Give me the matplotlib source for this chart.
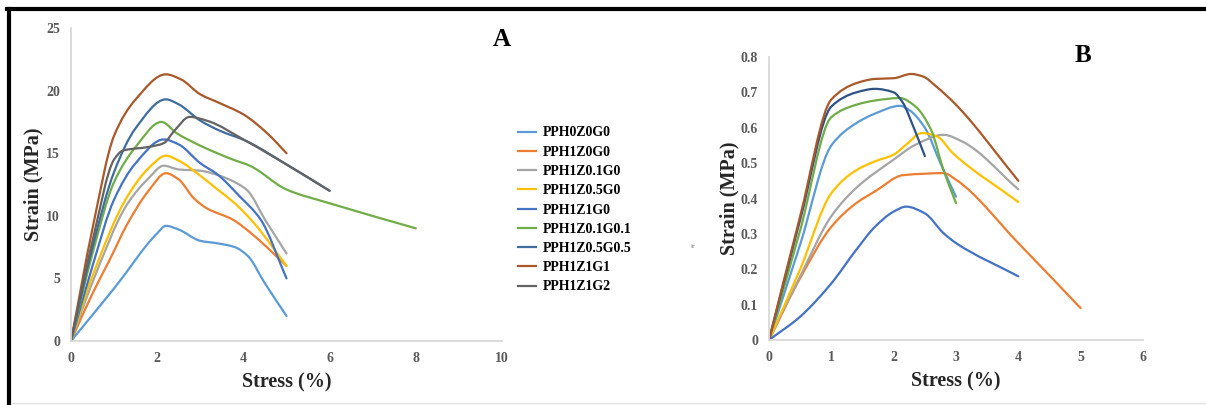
import matplotlib
matplotlib.use("Agg")
import matplotlib.pyplot as plt
from matplotlib.lines import Line2D
from matplotlib.path import Path
from matplotlib.patches import PathPatch
from matplotlib.ticker import FuncFormatter

# ---------------- data: panel A ----------------
labels = ["PPH0Z0G0", "PPH1Z0G0", "PPH1Z0.1G0", "PPH1Z0.5G0", "PPH1Z1G0",
          "PPH1Z0.1G0.1", "PPH1Z0.5G0.5", "PPH1Z1G1", "PPH1Z1G2"]
colors = ["#5B9BD5", "#ED7D31", "#A5A5A5", "#FFC000", "#4472C4",
          "#70AD47", "#3F6E9E", "#A9582A", "#636363"]

A_x = [
    [0, 1, 2, 2.2, 2.5, 3, 3.4, 3.8, 4.1, 4.5, 5],
    [0, 0.5, 0.9, 1.3, 1.8, 2.2, 2.5, 2.85, 3.15, 3.75, 4.25, 5],
    [0, 0.5, 1.3, 1.8, 2.15, 2.5, 3, 3.45, 3.85, 4.1, 4.5, 5],
    [0, 0.5, 1.3, 1.8, 2.2, 2.5, 3, 3.4, 3.8, 4.25, 5],
    [0, 0.5, 1, 1.5, 2.15, 2.5, 3, 3.4, 3.9, 4.4, 5],
    [0, 0.5, 1, 1.5, 2.1, 2.45, 3, 3.75, 4.15, 5, 6, 8],
    [0, 0.5, 1, 1.5, 2.2, 2.5, 3, 3.45, 4.05, 5, 6],
    [0, 0.5, 1, 1.5, 2.2, 2.55, 3, 3.45, 4, 4.55, 5],
    [0, 0.5, 1, 1.2, 1.8, 2.15, 2.4, 2.75, 3.15, 4.05, 5, 6],
]
A_y = [
    [0, 4.2, 8.6, 9.2, 8.9, 8.0, 7.8, 7.5, 6.8, 4.6, 2.0],
    [0, 3.8, 6.5, 9.3, 12.0, 13.4, 12.9, 11.4, 10.6, 9.7, 8.4, 6.0],
    [0, 4.7, 10.9, 13.0, 14.0, 13.7, 13.6, 13.2, 12.6, 12.0, 9.7, 7.0],
    [0, 5.2, 11.5, 13.8, 14.8, 14.4, 13.2, 12.1, 11.0, 9.4, 6.0],
    [0, 6.0, 11.3, 14.2, 16.1, 15.7, 14.2, 13.3, 11.6, 9.7, 5.0],
    [0, 7.0, 12.7, 15.5, 17.5, 16.6, 15.6, 14.5, 14.0, 12.1, 11.0, 9.0],
    [0, 7.5, 13.5, 17.0, 19.3, 18.9, 17.6, 16.8, 16.0, 14.1, 12.0],
    [0, 9.0, 16.4, 19.3, 21.3, 20.9, 19.7, 19.0, 18.1, 16.6, 15.0],
    [0, 8.0, 14.5, 15.2, 15.5, 15.8, 16.8, 17.9, 17.6, 16.0, 14.1, 12.0],
]

# ---------------- data: panel B ----------------
B_labels = ["PPH0Z0G0", "PPH1Z0G0", "PPH1Z0.1G0", "PPH1Z0.5G0", "PPH1Z1G0",
            "PPH1Z0.1G0.1", "PPH1Z0.5G0.5", "PPH1Z1G1"]
B_colors = ["#5B9BD5", "#ED7D31", "#A5A5A5", "#FFC000", "#4472C4",
            "#70AD47", "#2F5284", "#A9582A"]
B_x = [
    [0, 0.5, 1, 1.4, 1.7, 2.1, 2.25, 2.5, 2.75, 3],
    [0, 0.5, 1, 1.4, 1.7, 2.15, 2.5, 2.8, 3, 4, 5],
    [0, 0.5, 1, 1.4, 2, 2.35, 2.8, 3.1, 4],
    [0, 0.5, 1, 1.4, 1.7, 2, 2.2, 2.45, 2.7, 2.95, 4],
    [0, 0.5, 1, 1.4, 1.7, 2, 2.2, 2.5, 2.8, 3, 4],
    [0, 0.5, 1, 1.4, 1.7, 2.1, 2.35, 2.6, 2.8, 3],
    [0, 0.5, 1, 1.4, 1.7, 2, 2.15, 2.3, 2.5],
    [0, 0.5, 1, 1.4, 1.7, 2, 2.28, 2.47, 2.68, 3, 4],
]
B_y = [
    [0, 0.27, 0.55, 0.613, 0.64, 0.662, 0.65, 0.60, 0.50, 0.405],
    [0, 0.175, 0.32, 0.387, 0.42, 0.466, 0.47, 0.472, 0.453, 0.274, 0.09],
    [0, 0.18, 0.35, 0.43, 0.51, 0.552, 0.58, 0.561, 0.426],
    [0, 0.2, 0.415, 0.48, 0.505, 0.524, 0.552, 0.585, 0.575, 0.528, 0.39],
    [0, 0.066, 0.16, 0.255, 0.32, 0.363, 0.377, 0.358, 0.302, 0.274, 0.18],
    [0, 0.31, 0.63, 0.665, 0.677, 0.684, 0.66, 0.594, 0.48, 0.387],
    [0, 0.34, 0.66, 0.70, 0.71, 0.70, 0.67, 0.61, 0.52],
    [0, 0.35, 0.68, 0.726, 0.738, 0.74, 0.752, 0.745, 0.717, 0.665, 0.45],
]

A_xticks = [0, 2, 4, 6, 8, 10]
A_yticks = [0, 5, 10, 15, 20, 25]
B_xticks = [0, 1, 2, 3, 4, 5, 6]
B_yticks = [0, 0.1, 0.2, 0.3, 0.4, 0.5, 0.6, 0.7, 0.8]

# ---------------- figure ----------------
plt.rcParams['font.family'] = ['Liberation Serif', 'DejaVu Serif']
plt.rcParams['font.weight'] = 'bold'

W, H = 1206, 405
fig = plt.figure(figsize=(W / 100, H / 100), dpi=100)


def axrect(l, t, r, b):
    return [l / W, 1 - b / H, (r - l) / W, (b - t) / H]


def tangents(xs, ys):
    n = len(xs)
    h = [xs[i + 1] - xs[i] for i in range(n - 1)]
    d = [(ys[i + 1] - ys[i]) / h[i] for i in range(n - 1)]
    m = [0.0] * n
    m[0], m[-1] = d[0], d[-1]
    for k in range(1, n - 1):
        if d[k - 1] * d[k] <= 0:
            m[k] = 0.0
        else:
            w1 = 2 * h[k] + h[k - 1]
            w2 = h[k] + 2 * h[k - 1]
            m[k] = (w1 + w2) / (w1 / d[k - 1] + w2 / d[k])
    return m


def smooth_line(ax, xs, ys, color, lw=1.6):
    """Smoothed line: cubic Bezier segments passing through the data points."""
    m = tangents(xs, ys)
    verts = [(xs[0], ys[0])]
    codes = [Path.MOVETO]
    for i in range(len(xs) - 1):
        h = xs[i + 1] - xs[i]
        c1 = (xs[i] + h / 3, ys[i] + m[i] * h / 3)
        c2 = (xs[i + 1] - h / 3, ys[i + 1] - m[i + 1] * h / 3)
        verts += [c1, c2, (xs[i + 1], ys[i + 1])]
        codes += [Path.CURVE4] * 3
    patch = PathPatch(Path(verts, codes), facecolor="none", edgecolor=color,
                      lw=lw, capstyle="round", joinstyle="round")
    ax.add_patch(patch)


def style(ax, xt, yt, ylpad):
    for s in ["top", "right"]:
        ax.spines[s].set_visible(False)
    for s in ["left", "bottom"]:
        ax.spines[s].set_color("#D9D9D9")
        ax.spines[s].set_linewidth(1.3)
    ax.set_xticks(xt)
    ax.set_yticks(yt)
    ax.set_xlim(xt[0], xt[-1])
    ax.set_ylim(yt[0], yt[-1])
    ax.tick_params(length=0, labelsize=10, labelcolor="#595959", pad=8)
    fmt = FuncFormatter(lambda v, p: f"{v:g}")
    ax.xaxis.set_major_formatter(fmt)
    ax.yaxis.set_major_formatter(fmt)
    for t in ax.get_xticklabels() + ax.get_yticklabels():
        t.set_fontweight("bold")
    ax.set_xlabel("Stress (%)", fontsize=14.5, fontweight="bold", color="#262626", labelpad=5)
    ax.set_ylabel("Strain (MPa)", fontsize=14.5, fontweight="bold", color="#262626", labelpad=ylpad)


axA = fig.add_axes(axrect(71, 28, 502, 341))
for xs, ys, c in zip(A_x, A_y, colors):
    smooth_line(axA, xs, ys, c)
style(axA, A_xticks, A_yticks, 2)

axB = fig.add_axes(axrect(769, 57, 1143, 340))
for xs, ys, c in zip(B_x, B_y, B_colors):
    smooth_line(axB, xs, ys, c)
style(axB, B_xticks, B_yticks, 1)

handles = [Line2D([], [], color=c, lw=1.6) for c in colors]
fig.legend(handles, labels, loc="center left", bbox_to_anchor=(518 / W, 1 - 210 / H),
           frameon=False, handlelength=1.3, handletextpad=0.5,
           labelspacing=0.45, borderpad=0, borderaxespad=0,
           prop={"family": ["Liberation Serif"], "weight": "bold", "size": 10})

fig.text(502 / W, 1 - 40 / H, "A", fontsize=18, fontweight="bold", ha="center", va="center")
fig.text(1083 / W, 1 - 55 / H, "B", fontsize=18, fontweight="bold", ha="center", va="center")
fig.text(693 / W, 1 - 246 / H, "ir", fontsize=5, color="#B0B0B0", ha="center", va="center")

# frame lines
fig.add_artist(Line2D([9 / W, 9 / W], [0, 1 - 9 / H], transform=fig.transFigure,
                      color="black", lw=3))
fig.add_artist(Line2D([7 / W, 1], [1 - 9 / H, 1 - 9 / H], transform=fig.transFigure,
                      color="black", lw=3))
fig.add_artist(Line2D([11 / W, 1], [1 - 403 / H, 1 - 403 / H], transform=fig.transFigure,
                      color="#E3E3E3", lw=1))

fig.savefig("out.png", dpi=100)
